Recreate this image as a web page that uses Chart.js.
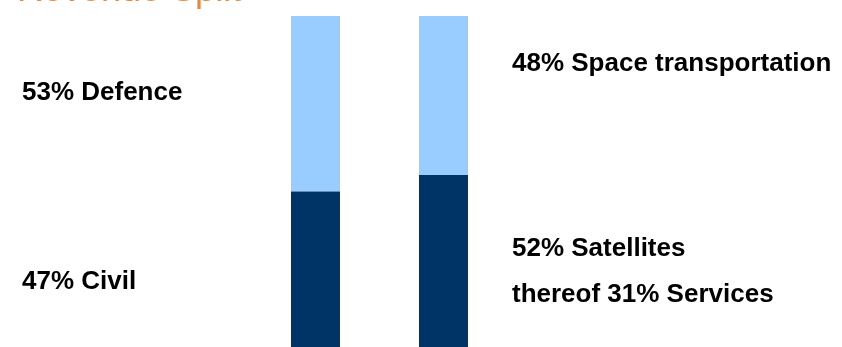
<!DOCTYPE html>
<html>
<head>
<meta charset="utf-8">
<script src="https://cdn.jsdelivr.net/npm/chart.js@4"></script>
<style>
  html, body { margin: 0; padding: 0; background: #fff; overflow: hidden; }
  #wrap { position: relative; width: 842px; height: 347px; }
  #wrap canvas { position: absolute; left: 0; top: 0; }
  .title { position: absolute; left: 17px; top: -29px; font: 36px/36px "Liberation Sans", Arial, sans-serif; color: #E8893A; white-space: nowrap; }
  .lbl { position: absolute; font: bold 26px/26px "Liberation Sans", Arial, sans-serif; color: #000; white-space: nowrap; }
</style>
</head>
<body>
<div id="wrap">
  <canvas id="splitChart" width="842" height="347"></canvas>
  <div class="title" id="title"></div>
  <div class="lbl" id="lblTopLeft" style="left:22px; top:78px;"></div>
  <div class="lbl" id="lblBottomLeft" style="left:22px; top:267px;"></div>
  <div class="lbl" id="lblTopRight" style="left:512px; top:49px;"></div>
  <div class="lbl" id="lblBottomRight" style="left:512px; top:234px;"></div>
  <div class="lbl" id="lblSubRight" style="left:512px; top:280px;"></div>
</div>
<script>
const titleText = 'Revenue Split';
const categories = ['Customer', 'Segment'];
const lowerShare = [47, 52];   // Civil, Satellites
const upperShare = [53, 48];   // Defence, Space transportation
const lowerNames = ['Civil', 'Satellites'];
const upperNames = ['Defence', 'Space transportation'];
const servicesShare = 31;

document.addEventListener('DOMContentLoaded', function() {
    document.getElementById('title').textContent = titleText;
    document.getElementById('lblTopLeft').textContent = `${upperShare[0]}% ${upperNames[0]}`;
    document.getElementById('lblBottomLeft').textContent = `${lowerShare[0]}% ${lowerNames[0]}`;
    document.getElementById('lblTopRight').textContent = `${upperShare[1]}% ${upperNames[1]}`;
    document.getElementById('lblBottomRight').textContent = `${lowerShare[1]}% ${lowerNames[1]}`;
    document.getElementById('lblSubRight').textContent = `thereof ${servicesShare}% Services`;

    const ctx = document.getElementById('splitChart').getContext('2d');
    new Chart(ctx, {
        type: 'bar',
        data: {
            labels: categories,
            datasets: [
                {
                    label: 'Lower',
                    data: lowerShare,
                    backgroundColor: '#003366',
                    borderWidth: 0,
                    categoryPercentage: 0.383,
                    barPercentage: 1
                },
                {
                    label: 'Upper',
                    data: upperShare,
                    backgroundColor: '#99CCFF',
                    borderWidth: 0,
                    categoryPercentage: 0.383,
                    barPercentage: 1
                }
            ]
        },
        options: {
            responsive: false,
            animation: false,
            layout: { padding: { left: 251.5, right: 334.5, top: 16, bottom: 0 } },
            plugins: { legend: { display: false }, tooltip: { enabled: false } },
            scales: {
                x: { stacked: true, display: false },
                y: { stacked: true, display: false, min: 0, max: 100 }
            }
        }
    });
});
</script>
</body>
</html>
